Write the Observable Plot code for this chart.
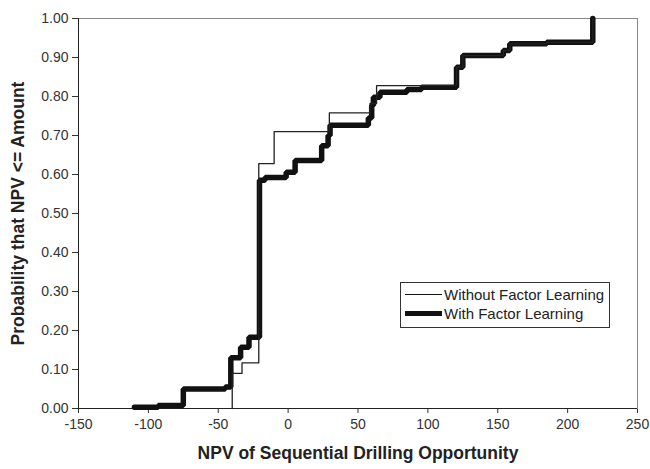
<!DOCTYPE html>
<html>
<head>
<meta charset="utf-8">
<script src="https://cdn.jsdelivr.net/npm/d3@7"></script>
<script src="https://cdn.jsdelivr.net/npm/@observablehq/plot@0.6"></script>
<style>
  html, body { margin: 0; padding: 0; background: #fff; }
  #wrap { position: relative; width: 650px; height: 469px; font-family: "Liberation Sans", Arial, sans-serif; }
  #legend { position: absolute; left: 400px; top: 282px; width: 210px; height: 46px; border: 1px solid #333; background: #fff; box-sizing: border-box; }
  .row { position: absolute; left: 4px; display: flex; align-items: center; font-size: 15px; color: #222; white-space: nowrap; }
  .sw { width: 37px; margin-right: 2px; background: #111; }
</style>
</head>
<body>
<div id="wrap"></div>
<script>
// NPV (x) and cumulative probability (y), step-after points
const withoutX = [-40, -40, -33, -21, -10, 29.5, 58.6, 63.3, 120.5, 125, 154, 158.6, 185, 218];
const withoutY = [0, 0.09, 0.117, 0.628, 0.71, 0.758, 0.782, 0.828, 0.875, 0.905, 0.918, 0.935, 0.939, 1.0];

const withX = [-110, -93, -75, -45, -41, -34, -28, -20.5, -16.5, -1.4, 5, 24, 28.6, 30, 57.4, 59.8, 61, 65.7, 85, 95.5, 120.5, 125, 154, 158.6, 185, 218];
const withY = [0.003, 0.008, 0.05, 0.055, 0.13, 0.157, 0.183, 0.585, 0.592, 0.606, 0.636, 0.674, 0.70, 0.726, 0.745, 0.777, 0.798, 0.811, 0.818, 0.824, 0.875, 0.905, 0.918, 0.935, 0.939, 1.0];

const xTicks = [-150, -100, -50, 0, 50, 100, 150, 200, 250];
const yTicks = [0, 0.1, 0.2, 0.3, 0.4, 0.5, 0.6, 0.7, 0.8, 0.9, 1.0];

const seriesNames = ["Without Factor Learning", "With Factor Learning"];
const xLabel = "NPV of Sequential Drilling Opportunity";
const yLabel = "Probability that NPV <= Amount";

const withoutData = withoutX.map((x, i) => ({x, y: withoutY[i]}));
const withData = withX.map((x, i) => ({x, y: withY[i]}));

const chart = Plot.plot({
  width: 650,
  height: 469,
  marginLeft: 78,
  marginRight: 13,
  marginTop: 18,
  marginBottom: 61,
  style: {fontFamily: "Liberation Sans, Arial, sans-serif", fontSize: "14px", color: "#333", background: "#fff", overflow: "visible"},
  x: {domain: [-150, 250], ticks: xTicks, tickFormat: d => `${d}`, tickSize: 5, tickPadding: 6, label: null},
  y: {domain: [0, 1], ticks: yTicks, tickFormat: d => d.toFixed(2), tickSize: 6, tickPadding: 4, label: null},
  marks: [
    Plot.frame({stroke: "#888", strokeWidth: 1}),
    Plot.ruleX([-150], {stroke: "#222", strokeWidth: 1}),
    Plot.ruleY([0], {stroke: "#222", strokeWidth: 1}),
    Plot.line(withData, {x: "x", y: "y", curve: "step-after", stroke: "#111", strokeWidth: 5.5, strokeLinejoin: "miter"}),
    Plot.line(withoutData, {x: "x", y: "y", curve: "step-after", stroke: "#222", strokeWidth: 1.3}),
    Plot.text([xLabel], {frameAnchor: "bottom", dy: 50, text: d => d, textAnchor: "middle", fontWeight: "bold", fontSize: 17.5, fill: "#222"}),
    Plot.text([yLabel], {frameAnchor: "left", dx: -60, rotate: -90, text: d => d, textAnchor: "middle", fontWeight: "bold", fontSize: 17.5, fill: "#222"})
  ]
});

const wrap = document.getElementById("wrap");
wrap.appendChild(chart);

const legend = document.createElement("div");
legend.id = "legend";
legend.innerHTML = `
  <div class="row" style="top:3px"><span class="sw" style="height:1.3px"></span>${seriesNames[0]}</div>
  <div class="row" style="top:22px"><span class="sw" style="height:5px"></span>${seriesNames[1]}</div>`;
wrap.appendChild(legend);
</script>
</body>
</html>
